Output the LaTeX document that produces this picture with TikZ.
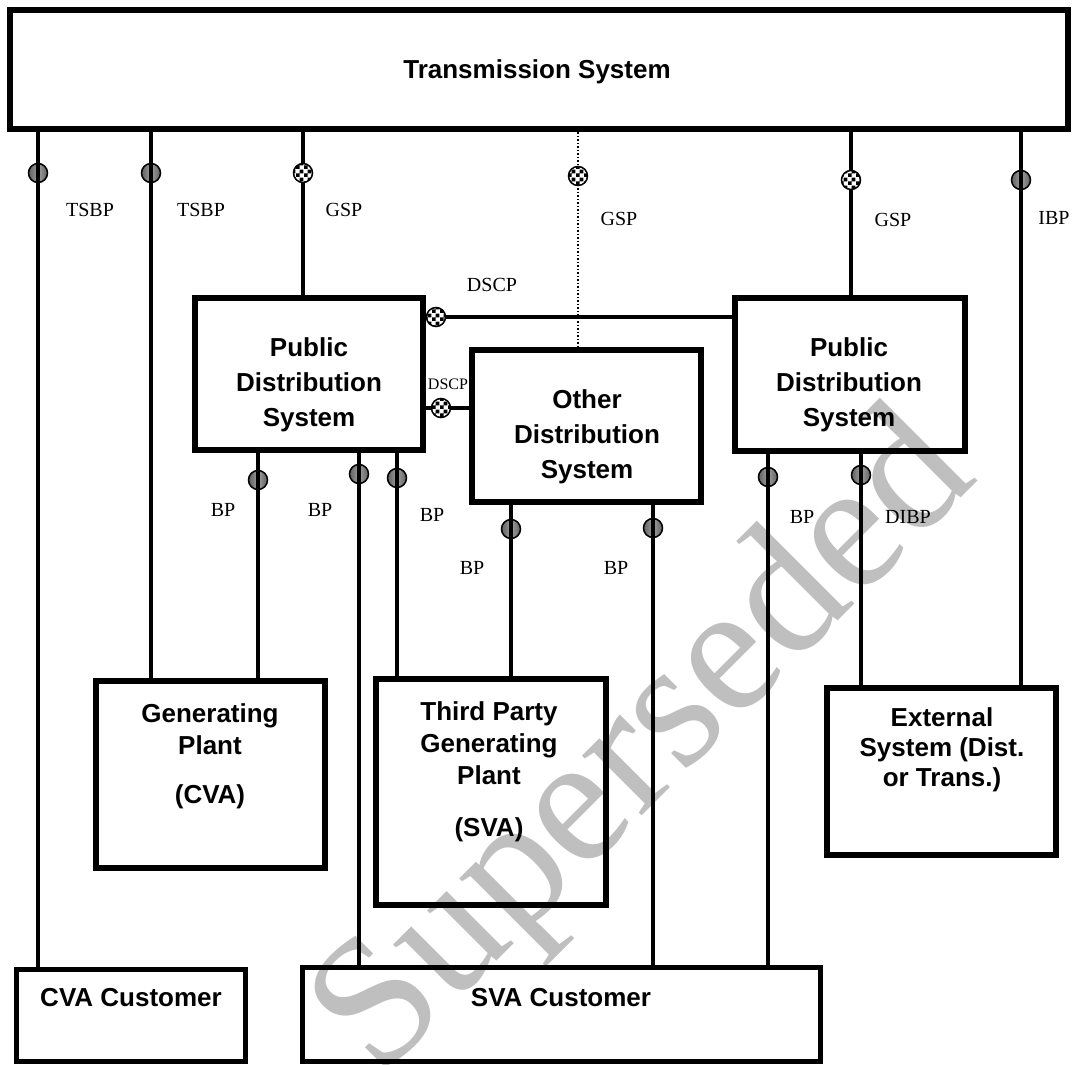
\documentclass[tikz,border=0pt]{standalone}
\usepackage{fontspec}
\setmainfont{Liberation Serif}
\setsansfont{Liberation Sans}
\usetikzlibrary{patterns}

\pgfdeclarelayer{background}
\pgfdeclarelayer{front}
\pgfsetlayers{background,main,front}

% small checker fill for the supply point marks
\pgfdeclarepatternformonly{smallcheck}{\pgfpointorigin}{\pgfqpoint{8pt}{8pt}}{\pgfqpoint{8pt}{8pt}}{%
  \pgfpathrectangle{\pgfpointorigin}{\pgfqpoint{4pt}{4pt}}%
  \pgfpathrectangle{\pgfqpoint{4pt}{4pt}}{\pgfqpoint{4pt}{4pt}}%
  \pgfusepath{fill}}

\tikzset{
  unit/.style={draw, line width=6pt, inner sep=0pt},
  custbox/.style={draw, line width=5pt, inner sep=0pt},
  boxtext/.style={font=\sffamily\bfseries\fontsize{26}{#1}\selectfont, align=center, inner sep=0pt},
  boxtext/.default=35,
  ptlabel/.style={font=\fontsize{20}{24}\selectfont, inner sep=0pt},
  link/.style={line width=3.5pt},
  bpmark/.style={circle, draw, line width=1.5pt, minimum size=19pt, inner sep=0pt,
    left color=black!62, right color=black!62, middle color=black!38},
  gspmark/.style={circle, draw, line width=1.5pt, minimum size=19pt, inner sep=0pt,
    preaction={fill=white}, pattern=smallcheck},
}

\begin{document}
\begin{tikzpicture}[x=1pt,y=1pt,yscale=-1,xscale=1]
\useasboundingbox (0,0) rectangle (1077,1065);

% Watermark
\begin{pgfonlayer}{background}
\node[rotate=45, text=black!25, inner sep=0pt, font=\fontsize{184}{190}\selectfont] (wm) at (648,748) {Superseded};
\end{pgfonlayer}

%Shape: Rectangle
\node[unit, minimum width=1058pt, minimum height=119pt] (ts) at (539,69.5) {};
\node[unit, minimum width=228pt, minimum height=152pt] (pdsa) at (309,374) {};
\node[unit, minimum width=229pt, minimum height=152pt] (ods) at (586.5,426) {};
\node[unit, minimum width=230pt, minimum height=153pt] (pdsb) at (850,374.5) {};
\node[unit, minimum width=229pt, minimum height=187pt] (gen) at (210.5,774.5) {};
\node[unit, minimum width=230pt, minimum height=226pt] (tpg) at (491,792) {};
\node[unit, minimum width=229pt, minimum height=167pt] (ext) at (941.5,771.5) {};
\node[custbox, minimum width=229pt, minimum height=92pt] (cvac) at (130.5,1015) {};
\node[custbox, minimum width=518pt, minimum height=94pt] (svac) at (561,1014) {};

% Text Node
\node[boxtext, anchor=base] (tst) at (537,79) {Transmission System};
\node[boxtext, anchor=north] (pdsat) at (309,337) {Public\\Distribution\\System};
\node[boxtext, anchor=north] (odst) at (587,389) {Other\\Distribution\\System};
\node[boxtext, anchor=north] (pdsbt) at (849,337) {Public\\Distribution\\System};
\node[boxtext=32, anchor=north] (gent) at (210,703) {Generating\\Plant\\[17pt](CVA)};
\node[boxtext=32, anchor=north] (tpgt) at (489,701) {Third Party\\Generating\\Plant\\[20pt](SVA)};
\node[boxtext=30, anchor=north] (extt) at (942,707) {External\\System (Dist.\\or Trans.)};
\node[boxtext, anchor=base] (cvact) at (131,1006) {CVA Customer};
\node[boxtext, anchor=base] (svact) at (561,1006) {SVA Customer};

% boundary points
\node[bpmark] (mtsa) at (38,173) {};
\node[bpmark] (mtsb) at (151,173) {};
\node[bpmark] (mibp) at (1021,180) {};
\node[bpmark] (mbpa) at (258,480) {};
\node[bpmark] (mbpb) at (359,474) {};
\node[bpmark] (mbpc) at (397,478) {};
\node[bpmark] (mbpd) at (511,529) {};
\node[bpmark] (mbpe) at (653,528) {};
\node[bpmark] (mbpf) at (768,477) {};
\node[bpmark] (mdibp) at (861,475) {};

% supply points
\begin{pgfonlayer}{front}
\node[gspmark] (mgspa) at (303,173) {};
\node[gspmark] (mgspb) at (578,176) {};
\node[gspmark] (mgspc) at (851,180) {};
\node[gspmark] (mdscpa) at (436,317) {};
\node[gspmark] (mdscpb) at (441,408) {};
\end{pgfonlayer}

% connections
\draw[link] (mtsa |- ts.south) -- (mtsa |- cvac.north);
\draw[link] (mtsb |- ts.south) -- (mtsb |- gen.north);
\draw[link] (mgspa |- ts.south) -- (mgspa |- pdsa.north);
\draw[line width=1.5pt, dash pattern=on 1.5pt off 2pt] (mgspb |- ts.south) -- (mgspb |- ods.north);
\draw[link] (mgspc |- ts.south) -- (mgspc |- pdsb.north);
\draw[link] (mibp |- ts.south) -- (mibp |- ext.north);
\draw[link] (pdsa.east |- mdscpa) -- (pdsb.west |- mdscpa);
\draw[link] (pdsa.east |- mdscpb) -- (ods.west |- mdscpb);
\draw[link] (mbpa |- pdsa.south) -- (mbpa |- gen.north);
\draw[link] (mbpb |- pdsa.south) -- (mbpb |- svac.north);
\draw[link] (mbpc |- pdsa.south) -- (mbpc |- tpg.north);
\draw[link] (mbpd |- ods.south) -- (mbpd |- tpg.north);
\draw[link] (mbpe |- ods.south) -- (mbpe |- svac.north);
\draw[link] (mbpf |- pdsb.south) -- (mbpf |- svac.north);
\draw[link] (mdibp |- pdsb.south) -- (mdibp |- ext.north);

% Text Node
\node[ptlabel] (ltsa) at (90,210) {TSBP};
\node[ptlabel] (ltsb) at (201,210) {TSBP};
\node[ptlabel] (lgspa) at (344,210) {GSP};
\node[ptlabel] (lgspb) at (619,219) {GSP};
\node[ptlabel] (lgspc) at (893,220) {GSP};
\node[ptlabel] (libp) at (1054,218) {IBP};
\node[ptlabel] (ldscpa) at (492,285) {DSCP};
\node[ptlabel, font=\fontsize{16}{19}\selectfont] (ldscpb) at (448,384) {DSCP};
\node[ptlabel] (lbpa) at (223,510) {BP};
\node[ptlabel] (lbpb) at (320,510) {BP};
\node[ptlabel] (lbpc) at (432,515) {BP};
\node[ptlabel] (lbpd) at (472,568) {BP};
\node[ptlabel] (lbpe) at (616,568) {BP};
\node[ptlabel] (lbpf) at (802,517) {BP};
\node[ptlabel] (ldibp) at (908,517) {DIBP};
\end{tikzpicture}
\end{document}
